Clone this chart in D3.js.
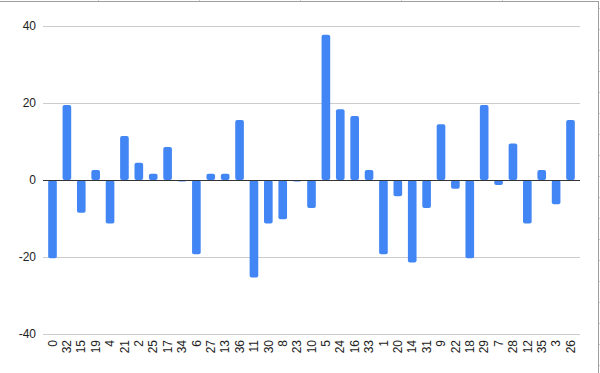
<!DOCTYPE html>
<html>
<head>
<meta charset="utf-8">
<script src="https://cdn.jsdelivr.net/npm/d3@7/dist/d3.min.js"></script>
<style>
  html, body { margin: 0; padding: 0; background: #fff; }
  svg { display: block; font-family: "Liberation Sans", Arial, sans-serif; }
</style>
</head>
<body>
<svg id="chart" width="600" height="373"></svg>
<script>
const categories = ["0","32","15","19","4","21","2","25","17","34","6","27","13","36","11","30","8","23","10","5","24","16","33","1","20","14","31","9","22","18","29","7","28","12","35","3","26"];
const values = [-20.3, 19.5, -8.5, 2.6, -11.3, 11.4, 4.5, 1.6, 8.6, -0.4, -19.3, 1.6, 1.6, 15.6, -25.3, -11.3, -10.2, -0.4, -7.3, 37.7, 18.4, 16.6, 2.6, -19.3, -4.2, -21.4, -7.3, 14.5, -2.3, -20.3, 19.5, -1.3, 9.5, -11.3, 2.6, -6.3, 15.6];
const yTicks = [-40, -20, 0, 20, 40];

const svg = d3.select("#chart");
const plotLeft = 43, plotRight = 580, plotTop = 26, plotBottom = 334;

const x = d3.scaleBand().domain(categories).range([plotLeft, plotRight]).paddingInner(0.4).paddingOuter(0.36);
const y = d3.scaleLinear().domain([-40, 40]).range([plotBottom, plotTop]);

// frame (sheet-like border)
const frame = svg.append("g").attr("stroke", "#9e9e9e").attr("fill", "none");
frame.append("line").attr("x1", 0).attr("x2", 598.5).attr("y1", 1.5).attr("y2", 1.5).attr("stroke-width", 1);
frame.append("line").attr("x1", 598.5).attr("x2", 598.5).attr("y1", 1).attr("y2", 373).attr("stroke-width", 1);
[98, 199, 300, 401, 502].forEach(px => {
  frame.append("line").attr("x1", px + 0.5).attr("x2", px + 0.5).attr("y1", 0).attr("y2", 1).attr("stroke", "#d0d0d0");
});
for (let py = 8; py < 373; py += 21) {
  frame.append("line").attr("x1", 599).attr("x2", 600).attr("y1", py + 0.5).attr("y2", py + 0.5).attr("stroke", "#d0d0d0");
}

// gridlines + y labels
const yAxis = d3.axisLeft(y).tickValues(yTicks).tickFormat(d => String(d)).tickSize(-(plotRight - plotLeft)).tickPadding(7);
const gy = svg.append("g").attr("transform", `translate(${plotLeft},0)`).call(yAxis);
gy.select(".domain").remove();
gy.selectAll(".tick line").attr("stroke", "#cccccc").attr("shape-rendering", "crispEdges");
gy.selectAll(".tick text").attr("fill", "#222").attr("font-size", 12).attr("font-family", "Liberation Sans, Arial, sans-serif");

// bars
svg.append("g").selectAll("rect").data(values).join("rect")
  .attr("x", (d, i) => x(categories[i]))
  .attr("width", x.bandwidth())
  .attr("y", d => y(Math.max(0, d)))
  .attr("height", d => Math.max(1.5, Math.abs(y(d) - y(0))))
  .attr("rx", 2)
  .attr("fill", "#4285f4");

// zero line
svg.append("line").attr("x1", plotLeft).attr("x2", plotRight).attr("y1", Math.round(y(0)) + 0.5).attr("y2", Math.round(y(0)) + 0.5)
  .attr("stroke", "#333").attr("stroke-width", 1);

// x labels
const xAxis = d3.axisBottom(x).tickSize(0).tickPadding(0);
const gx = svg.append("g").attr("transform", `translate(0,${plotBottom})`).call(xAxis);
gx.select(".domain").remove();
gx.selectAll(".tick text")
  .attr("transform", "translate(0,6) rotate(-90)")
  .attr("text-anchor", "end")
  .attr("dy", "0.35em")
  .attr("x", 0).attr("y", 0)
  .attr("fill", "#222").attr("font-size", 12)
  .attr("font-family", "Liberation Sans, Arial, sans-serif");
</script>
</body>
</html>
